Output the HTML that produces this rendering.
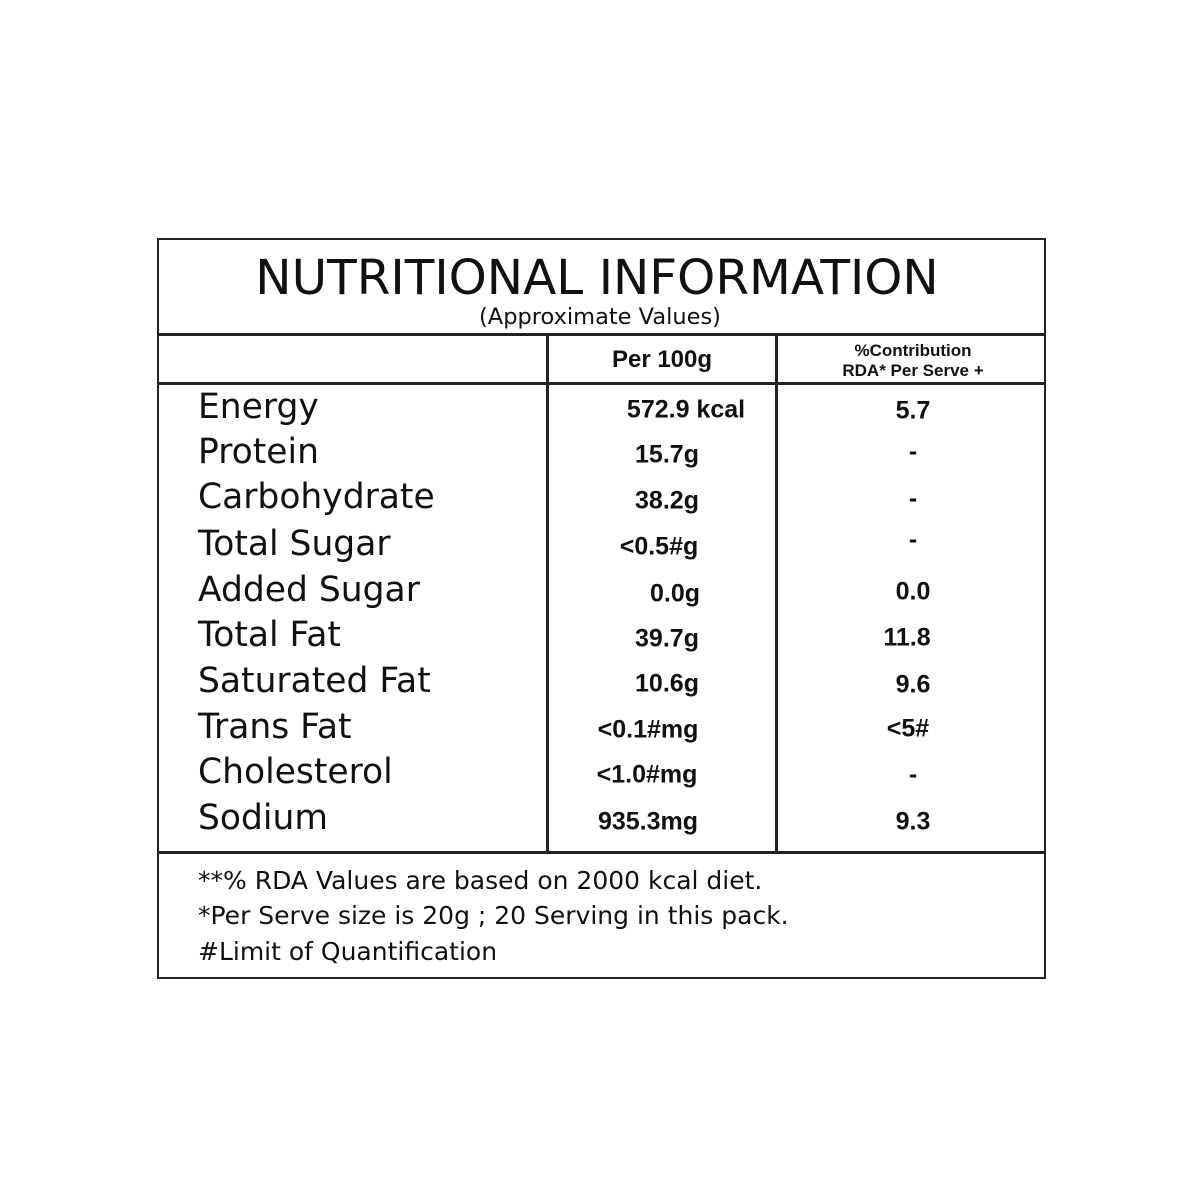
<!DOCTYPE html>
<html><head><style>
body{margin:0;width:1200px;height:1200px;background:#fff;position:relative;font-family:"DejaVu Sans","Liberation Sans",sans-serif;color:#111}
.a{position:absolute;white-space:nowrap}
.l{position:absolute;background:#222}
.lab{left:198px;font-size:34.5px;transform:translateY(-50%)}
.v{font-family:"Liberation Sans",sans-serif;font-weight:bold;font-size:25px;transform:translate(-50%,-50%)}
</style></head><body>
<div class="l" style="left:157px;top:238px;width:889px;height:2px"></div>
<div class="l" style="left:157px;top:977px;width:889px;height:2px"></div>
<div class="l" style="left:157px;top:238px;width:2px;height:741px"></div>
<div class="l" style="left:1044px;top:238px;width:2px;height:741px"></div>
<div class="l" style="left:157px;top:333px;width:889px;height:3px"></div>
<div class="l" style="left:157px;top:382px;width:889px;height:3px"></div>
<div class="l" style="left:157px;top:851px;width:889px;height:3px"></div>
<div class="l" style="left:546px;top:335px;width:3px;height:518px"></div>
<div class="l" style="left:775px;top:335px;width:3px;height:518px"></div>
<div class="a" style="left:597px;top:278px;font-size:48.5px;transform:translate(-50%,-50%)">NUTRITIONAL INFORMATION</div>
<div class="a" style="left:600px;top:317px;font-size:22.5px;transform:translate(-50%,-50%)">(Approximate Values)</div>
<div class="a v" style="left:662px;top:360px;font-size:24px">Per 100g</div>
<div class="a v" style="left:913px;top:351px;font-size:17px">%Contribution</div>
<div class="a v" style="left:913px;top:371px;font-size:17px">RDA* Per Serve +</div>
<div class="a lab" style="top:407px">Energy</div><div class="a v" style="left:686px;top:410px">572.9 kcal</div><div class="a v" style="left:913px;top:411px">5.7</div>
<div class="a lab" style="top:452px">Protein</div><div class="a v" style="left:667px;top:455px">15.7g</div><div class="a v" style="left:913px;top:452px">-</div>
<div class="a lab" style="top:497px">Carbohydrate</div><div class="a v" style="left:667px;top:501px">38.2g</div><div class="a v" style="left:913px;top:499px">-</div>
<div class="a lab" style="top:544px">Total Sugar</div><div class="a v" style="left:659px;top:547px">&lt;0.5#g</div><div class="a v" style="left:913px;top:540px">-</div>
<div class="a lab" style="top:590px">Added Sugar</div><div class="a v" style="left:675px;top:594px">0.0g</div><div class="a v" style="left:913px;top:592px">0.0</div>
<div class="a lab" style="top:635px">Total Fat</div><div class="a v" style="left:667px;top:639px">39.7g</div><div class="a v" style="left:907px;top:638px">11.8</div>
<div class="a lab" style="top:681px">Saturated Fat</div><div class="a v" style="left:667px;top:684px">10.6g</div><div class="a v" style="left:913px;top:685px">9.6</div>
<div class="a lab" style="top:727px">Trans Fat</div><div class="a v" style="left:648px;top:730px">&lt;0.1#mg</div><div class="a v" style="left:908px;top:729px">&lt;5#</div>
<div class="a lab" style="top:772px">Cholesterol</div><div class="a v" style="left:647px;top:775px">&lt;1.0#mg</div><div class="a v" style="left:913px;top:775px">-</div>
<div class="a lab" style="top:818px">Sodium</div><div class="a v" style="left:648px;top:822px">935.3mg</div><div class="a v" style="left:913px;top:822px">9.3</div>
<div class="a" style="left:198px;top:866px;font-size:25px">**% RDA Values are based on 2000 kcal diet.</div>
<div class="a" style="left:198px;top:901px;font-size:25px">*Per Serve size is 20g ; 20 Serving in this pack.</div>
<div class="a" style="left:198px;top:937px;font-size:25px">#Limit of Quantification</div>
</body></html>
